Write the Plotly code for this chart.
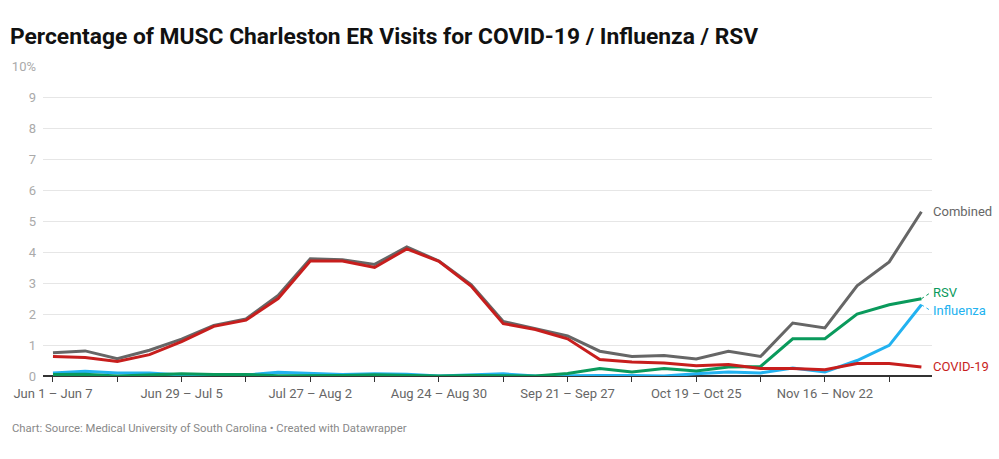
import plotly.graph_objects as go

weeks = [
    "Jun 1 – Jun 7", "Jun 8 – Jun 14", "Jun 15 – Jun 21", "Jun 22 – Jun 28",
    "Jun 29 – Jul 5", "Jul 6 – Jul 12", "Jul 13 – Jul 19", "Jul 20 – Jul 26",
    "Jul 27 – Aug 2", "Aug 3 – Aug 9", "Aug 10 – Aug 16", "Aug 17 – Aug 23",
    "Aug 24 – Aug 30", "Aug 31 – Sep 6", "Sep 7 – Sep 13", "Sep 14 – Sep 20",
    "Sep 21 – Sep 27", "Sep 28 – Oct 4", "Oct 5 – Oct 11", "Oct 12 – Oct 18",
    "Oct 19 – Oct 25", "Oct 26 – Nov 1", "Nov 2 – Nov 8", "Nov 9 – Nov 15",
    "Nov 16 – Nov 22", "Nov 23 – Nov 29", "Nov 30 – Dec 6", "Dec 7 – Dec 13",
]

combined = [0.75, 0.81, 0.56, 0.83, 1.19, 1.63, 1.84, 2.60, 3.78, 3.75, 3.60, 4.16, 3.71, 2.95,
            1.76, 1.53, 1.29, 0.80, 0.63, 0.66, 0.55, 0.80, 0.63, 1.71, 1.55, 2.91, 3.68, 5.30]
covid = [0.63, 0.60, 0.47, 0.69, 1.11, 1.60, 1.80, 2.50, 3.71, 3.71, 3.50, 4.10, 3.70, 2.90,
         1.69, 1.50, 1.20, 0.53, 0.45, 0.42, 0.33, 0.37, 0.24, 0.24, 0.20, 0.40, 0.40, 0.29]
rsv = [0.05, 0.06, 0.00, 0.03, 0.07, 0.05, 0.05, 0.01, 0.01, 0.02, 0.04, 0.02, 0.00, 0.02,
       0.02, 0.00, 0.08, 0.24, 0.13, 0.24, 0.16, 0.29, 0.31, 1.20, 1.20, 2.00, 2.30, 2.49]
influenza = [0.10, 0.15, 0.10, 0.10, 0.03, 0.03, 0.03, 0.12, 0.08, 0.05, 0.07, 0.06, 0.00, 0.03,
             0.07, 0.00, 0.02, 0.02, 0.02, 0.00, 0.07, 0.13, 0.10, 0.26, 0.13, 0.50, 0.99, 2.30]

series = [
    ("Combined", combined, "#666666"),
    ("Influenza", influenza, "#22b2f0"),
    ("RSV", rsv, "#0a9a5c"),
    ("COVID-19", covid, "#c71e1d"),
]
label_y = {"Combined": 5.32, "RSV": 2.70, "Influenza": 2.10, "COVID-19": 0.30}

W, H = 999, 459
L, R, T, B = 40, 67, 66, 83
PW, PH = W - L - R, H - T - B

x = list(range(len(weeks)))
fig = go.Figure()
for name, vals, col in series:
    fig.add_trace(go.Scatter(x=x, y=vals, mode="lines", name=name,
                             line=dict(color=col, width=3), showlegend=False,
                             hoverinfo="skip"))

last = len(weeks) - 1
for name, vals, col in series:
    fig.add_annotation(x=last + 0.3, y=label_y[name], text=name, showarrow=False,
                       xanchor="left", yanchor="middle", xref="x", yref="y",
                       font=dict(family="Roboto", size=13, color=col))
    if name in ("RSV", "Influenza"):
        fig.add_shape(type="line", x0=last, y0=vals[-1], x1=last + 0.3, y1=label_y[name],
                      xref="x", yref="y", line=dict(color=col, width=1, dash="dot"))

tickvals = list(range(0, len(weeks), 2))
ticktext = [weeks[i] if i % 4 == 0 else "" for i in tickvals]

fig.update_layout(
    width=W, height=H,
    margin=dict(l=L, r=R, t=T, b=B),
    paper_bgcolor="white", plot_bgcolor="white",
    font=dict(family="Roboto", color="#666666"),
    title=dict(text="<b>Percentage of MUSC Charleston ER Visits for COVID-19 / Influenza / RSV</b>",
               x=10 / W, xanchor="left", y=1 - 36 / H, yanchor="middle",
               font=dict(family="Roboto", size=22.8, color="#111111")),
    xaxis=dict(range=[-0.31, 27.33], tickvals=tickvals, ticktext=ticktext,
               ticks="outside", ticklen=5, tickcolor="#333333", tickwidth=1,
               showgrid=False, zeroline=False, showline=False,
               tickfont=dict(family="Roboto", size=13, color="#666666")),
    yaxis=dict(range=[0, 10], tickvals=list(range(0, 11)),
               ticktext=[str(i) if i < 10 else "10%" for i in range(0, 11)],
               showgrid=True, gridcolor="#e6e6e6", gridwidth=1,
               zeroline=True, zerolinecolor="#333333", zerolinewidth=1.5,
               ticks="", ticklabelstandoff=6,
               tickfont=dict(family="Roboto", size=13, color="#aaaaaa")),
)
fig.add_annotation(text="Chart: Source: Medical University of South Carolina • Created with Datawrapper",
                   x=(7 - L) / PW, y=(H - B - 428) / PH, xref="paper", yref="paper",
                   xanchor="left", yanchor="middle", showarrow=False,
                   font=dict(family="Roboto", size=11.3, color="#888888"))

fig.write_html("out.html", config={"displayModeBar": False})
with open("out.html", encoding="utf-8") as f:
    html = f.read()
html = html.replace("<body>", '<body style="margin:0;padding:0;">', 1)
with open("out.html", "w", encoding="utf-8") as f:
    f.write(html)
